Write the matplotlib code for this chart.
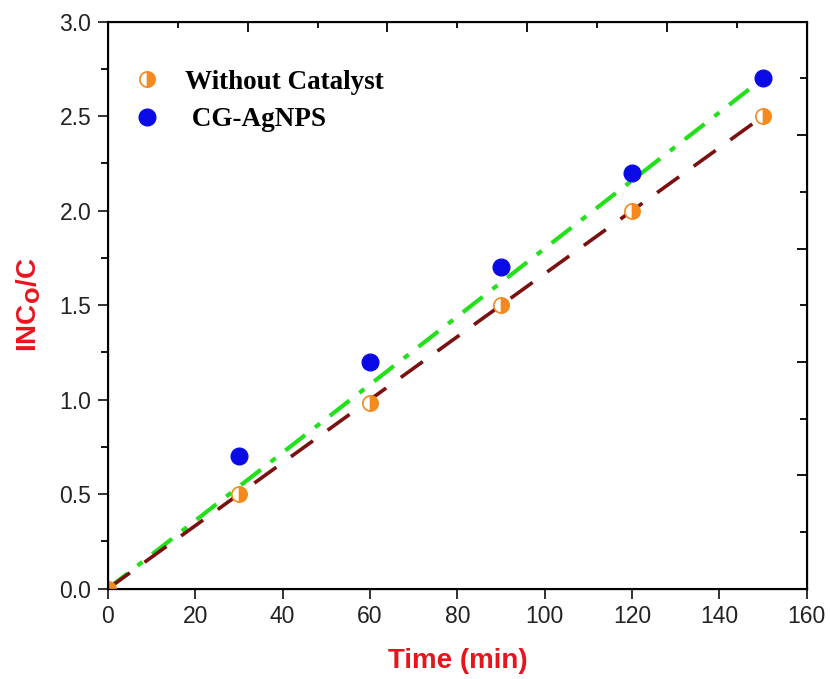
import numpy as np
import matplotlib.pyplot as plt
from matplotlib.ticker import MultipleLocator

# data
time_min = [0, 30, 60, 90, 120, 150]
without_catalyst = [0.0, 0.50, 0.98, 1.50, 2.00, 2.50]
cg_time = [30, 60, 90, 120, 150]
cg_agnps = [0.70, 1.20, 1.70, 2.20, 2.70]

# linear fits (through origin) as drawn
fit_x = [0, 150]
slope_without = 2.50 / 150
slope_cg = 2.70 / 150

plt.rcParams["font.family"] = ["Liberation Sans", "DejaVu Sans"]

fig = plt.figure(figsize=(8.3, 6.79), dpi=100)
ax = fig.add_axes([0.130, 0.133, 0.842, 0.835])

fx = np.array(fit_x)
ax.plot(fx, slope_cg * fx, color="#22e01a", lw=3, ls=(0, (6, 3, 1.5, 3)), zorder=2)
ax.plot(fx, slope_without * fx, color="#7a1010", lw=2.6, ls=(0, (7.5, 5)), zorder=2)

ax.plot(time_min, without_catalyst, ls="none", marker="o", ms=11,
        fillstyle="right", color="#f5891e", markerfacecoloralt="white",
        markeredgecolor="#f5891e", mew=1.2, zorder=3, label="Without Catalyst")
ax.plot(cg_time, cg_agnps, ls="none", marker="o", ms=12, color="#0a0ae6",
        zorder=3, label=" CG-AgNPS")

ax.set_xlim(0, 160)
ax.set_ylim(0, 3.0)
ax.xaxis.set_major_locator(MultipleLocator(20))
ax.yaxis.set_major_locator(MultipleLocator(0.5))
ax.yaxis.set_minor_locator(MultipleLocator(0.25))
ax.yaxis.set_major_formatter(plt.FormatStrFormatter("%.1f"))
ax.tick_params(axis="both", which="major", direction="out", length=7, width=1.3,
               labelsize=16.5, colors="#222222", top=False, right=False, pad=5)
ax.tick_params(axis="y", which="minor", direction="out", length=5, width=1.3, right=False)
for sp in ax.spines.values():
    sp.set_linewidth(1.5)

# top and right axes with their own inward ticks, no labels
axt = ax.twiny()
axt.set_xlim(0, 160)
axt.xaxis.set_major_locator(MultipleLocator(32))
axt.xaxis.set_minor_locator(MultipleLocator(16))
axt.tick_params(axis="x", which="major", direction="in", length=7, width=1.3, labeltop=False)
axt.tick_params(axis="x", which="minor", direction="in", length=4, width=1.3)
axr = ax.twinx()
axr.set_ylim(0, 3.0)
axr.yaxis.set_major_locator(MultipleLocator(0.6))
axr.yaxis.set_minor_locator(MultipleLocator(0.3))
axr.tick_params(axis="y", which="major", direction="in", length=7, width=1.3, labelright=False)
axr.tick_params(axis="y", which="minor", direction="in", length=5, width=1.3)

ax.set_xlabel("Time (min)", color="#e8141c", fontsize=20, fontweight="bold", labelpad=14)
ax.set_ylabel(r"INC$_\mathbf{O}$/C", color="#e8141c", fontsize=20, fontweight="bold", labelpad=12)

leg = ax.legend(loc="upper left", bbox_to_anchor=(0.004, 0.958), frameon=False,
                prop={"family": "Liberation Serif", "weight": "bold", "size": 19.5},
                handletextpad=0.95, labelspacing=0.45, handlelength=0.9)

fig.savefig("out.png", dpi=100)
